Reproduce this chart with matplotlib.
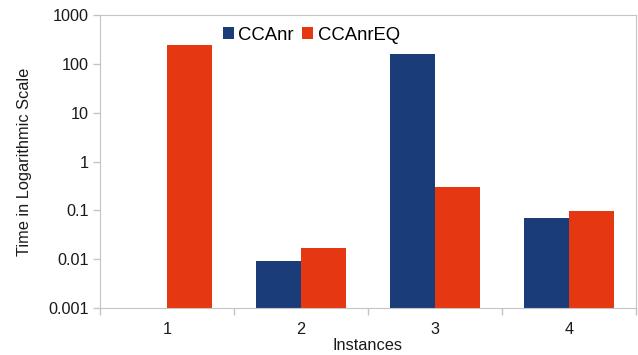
import matplotlib.pyplot as plt
import numpy as np

plt.rcParams['font.family'] = ['Liberation Sans', 'DejaVu Sans']

instances = ['1', '2', '3', '4']
ccanr = [np.nan, 0.0091, 160, 0.069]      # no value for instance 1
ccanr_eq = [244, 0.0168, 0.295, 0.0955]

blue = '#1a3d7a'
orange = '#e53711'
grey = '#c4c4c4'
txt = '#1a1a1a'

fig = plt.figure(figsize=(6.38, 3.55), dpi=100)
ax = fig.add_axes([0.1567, 0.1324, 0.8402, 0.8253])

x = np.arange(1, len(instances) + 1)
w = 1 / 3
ax.bar(x - w / 2, ccanr, w, color=blue, label='CCAnr')
ax.bar(x + w / 2, ccanr_eq, w, color=orange, label='CCAnrEQ')

ax.set_yscale('log')
ax.set_ylim(0.001, 1000)
ax.set_xlim(0.5, len(instances) + 0.5)
ax.set_yticks([0.001, 0.01, 0.1, 1, 10, 100, 1000])
ax.set_yticklabels(['0.001', '0.01', '0.1', '1', '10', '100', '1000'])
ax.yaxis.set_minor_locator(plt.NullLocator())
ax.set_xticks(x)
ax.set_xticklabels(instances)
ax.set_xticks(np.arange(0.5, len(instances) + 1), minor=True)

for s in ax.spines.values():
    s.set_color(grey)
ax.tick_params(axis='y', colors=grey, labelcolor=txt, labelsize=11.7, length=5, width=1, pad=3)
ax.tick_params(axis='x', which='major', length=0, labelcolor=txt, labelsize=11.7, pad=10)
ax.tick_params(axis='x', which='minor', colors=grey, length=5, width=1)

ax.set_xlabel('Instances', fontsize=11.8, labelpad=1, color=txt)
ax.set_ylabel('Time in Logarithmic Scale', fontsize=11.8, labelpad=12, color=txt)

ax.legend(loc='upper left', bbox_to_anchor=(0.215, 0.985), ncol=2, frameon=False,
          fontsize=13.3, handlelength=0.6, handleheight=0.6, handletextpad=0.25,
          columnspacing=0.45, borderaxespad=0)

fig.savefig('out.png', dpi=100)
